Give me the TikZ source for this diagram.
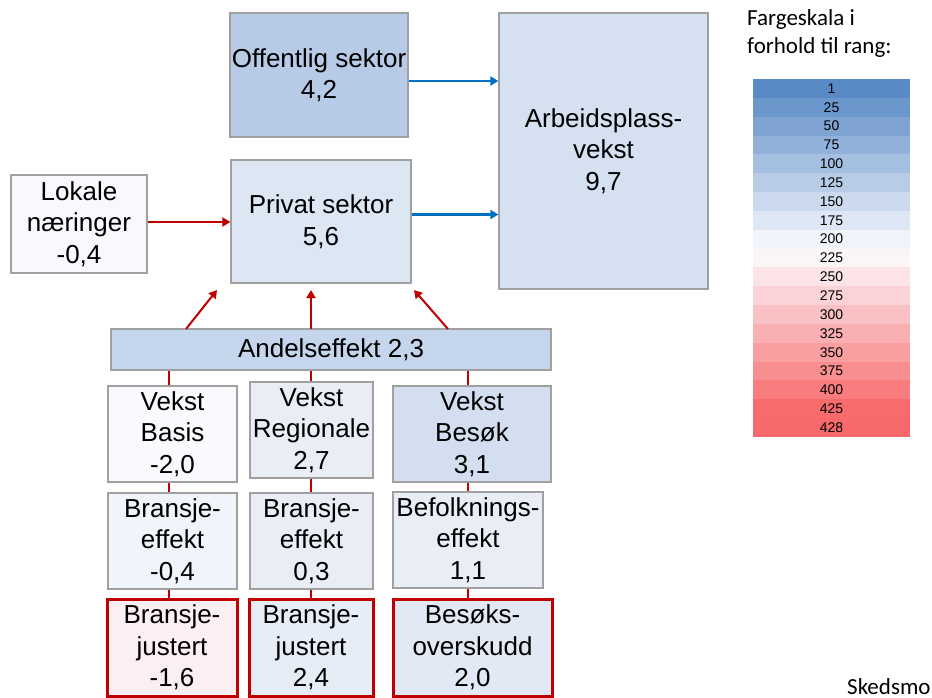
\documentclass[tikz,border=0pt]{standalone}
\usepackage{fontspec}
\setmainfont{Liberation Sans}
\newfontfamily\calibri{Carlito}
\usetikzlibrary{arrows.meta}
\definecolor{sblue}{HTML}{5A8AC6}
\definecolor{swhite}{HTML}{FCFCFF}
\definecolor{sred}{HTML}{F8696B}
\definecolor{boxgray}{HTML}{A0A0A0}
\definecolor{dred}{HTML}{C00000}
\definecolor{dblue}{HTML}{0070C0}
\definecolor{cOff}{HTML}{B7CBE6}
\definecolor{cPriv}{HTML}{DDE7F4}
\definecolor{cArb}{HTML}{D5E0F0}
\definecolor{cLok}{HTML}{F8F9FD}
\definecolor{cAnd}{HTML}{C5D5EB}
\definecolor{cVB}{HTML}{FAFAFE}
\definecolor{cVR}{HTML}{E9EEF6}
\definecolor{cVBe}{HTML}{D3DEF0}
\definecolor{cBE1}{HTML}{F0F4FB}
\definecolor{cBE2}{HTML}{E8EDF6}
\definecolor{cBef}{HTML}{E9EEF6}
\definecolor{cBJ1}{HTML}{FBEFF2}
\definecolor{cBJ2}{HTML}{E7EDF6}
\definecolor{cBO}{HTML}{E2E9F5}
\begin{document}
\begin{tikzpicture}[x=1pt,y=-1pt,
  box/.style={draw=boxgray, line width=1.2pt, inner sep=0pt, align=center,
    font=\fontsize{26}{31.5}\selectfont, text=black},
  redbox/.style={box, draw=dred, line width=3pt},
  redarr/.style={draw=dred, line width=2pt, -{Triangle[length=8pt,width=9pt]}},
  bluarr/.style={draw=dblue, line width=2.5pt, -{Triangle[length=8pt,width=9pt]}},
  redline/.style={draw=dred, line width=2pt},
  scaletxt/.style={inner sep=0pt, font=\fontsize{14}{16}\selectfont, text=black}]
\useasboundingbox (0,0) rectangle (932,698);

% main boxes
\node[box, fill=cOff, minimum width=178pt, minimum height=124pt] (off) at (319,75) {Offentlig sektor\\4,2};
\node[box, fill=cPriv, minimum width=180pt, minimum height=123pt] (priv) at (321,221.5) {Privat sektor\\5,6};
\node[box, fill=cArb, minimum width=209pt, minimum height=276pt] (arb) at (603.5,151) {Arbeidsplass-\\vekst\\9,7};
\node[box, fill=cLok, minimum width=136pt, minimum height=98pt] (lok) at (79,224) {Lokale\\næringer\\-0,4};
\node[box, fill=cAnd, minimum width=440pt, minimum height=41pt] (andel) at (331,349.5) {Andelseffekt 2,3};

\node[box, fill=cVB, minimum width=129pt, minimum height=96pt] (vb) at (172.5,434) {Vekst\\Basis\\-2,0};
\node[box, fill=cVR, minimum width=123pt, minimum height=96pt] (vr) at (311.5,430) {Vekst\\Regionale\\2,7};
\node[box, fill=cVBe, minimum width=158pt, minimum height=96pt] (vbe) at (472,434) {Vekst\\Besøk\\3,1};

\node[box, fill=cBE1, minimum width=129pt, minimum height=96pt] (be1) at (172.5,541) {Bransje-\\effekt\\-0,4};
\node[box, fill=cBE2, minimum width=123pt, minimum height=96pt] (be2) at (311.5,541) {Bransje-\\effekt\\0,3};
\node[box, fill=cBef, minimum width=150pt, minimum height=96pt] (bef) at (468,540) {Befolknings-\\effekt\\1,1};

\node[redbox, fill=cBJ1, minimum width=130pt, minimum height=97pt] (bj1) at (172,647.5) {Bransje-\\justert\\-1,6};
\node[redbox, fill=cBJ2, minimum width=124pt, minimum height=97pt] (bj2) at (311,647.5) {Bransje-\\justert\\2,4};
\node[redbox, fill=cBO, minimum width=159pt, minimum height=97pt] (bo) at (472.5,647.5) {Besøks-\\overskudd\\2,0};

% arrows
\draw[bluarr] ([yshift=-6pt]off.east) -- ([yshift=-6pt]off.east -| arb.west);
\draw[bluarr] ([yshift=7pt]priv.east) -- ([yshift=7pt]priv.east -| arb.west);
\draw[redarr] ([yshift=2pt]lok.east) -- ([yshift=2pt]lok.east -| priv.west);

\coordinate (u1s) at (186,329);
\coordinate (u1e) at (217,290);
\coordinate (u2s) at (311,329);
\coordinate (u2e) at (311,290);
\coordinate (u3s) at (448,329);
\coordinate (u3e) at (414,290);
\draw[redarr] (u1s) -- (u1e);
\draw[redarr] (u2s) -- (u2e);
\draw[redarr] (u3s) -- (u3e);

\coordinate (colA) at (169,0);
\coordinate (colB) at (311,0);
\coordinate (colC) at (468,0);
\draw[redline] (andel.south -| colA) -- (vb.north -| colA);
\draw[redline] (vb.south -| colA) -- (be1.north -| colA);
\draw[redline] (be1.south -| colA) -- (bj1.north -| colA);
\draw[redline] (andel.south -| colB) -- (vr.north -| colB);
\draw[redline] (vr.south -| colB) -- (be2.north -| colB);
\draw[redline] (be2.south -| colB) -- (bj2.north -| colB);
\draw[redline] (andel.south -| colC) -- (vbe.north -| colC);
\draw[redline] (vbe.south -| colC) -- (bef.north -| colC);
\draw[redline] (bef.south -| colC) -- (bo.north -| colC);

% colour scale legend
\node[anchor=north west, inner sep=0pt, align=left, font=\calibri\fontsize{23}{28}\selectfont] (leg) at (747,9) {Fargeskala i\\forhold til rang:};
\foreach \v [count=\i from 0] in {1,25,50,75,100,125,150,175,200,225,250,275,300,325,350,375,400,425,428} {
  \ifdim\v pt<214.5pt
    \pgfmathsetmacro\p{(1-(\v-1)/213.5)*100}
    \colorlet{rowc}{sblue!\p!swhite}
  \else
    \pgfmathsetmacro\p{(\v-214.5)/213.5*100}
    \colorlet{rowc}{sred!\p!swhite}
  \fi
  \pgfmathsetmacro\ya{79+\i*18.84}
  \pgfmathsetmacro\yb{79+(\i+1)*18.84}
  \fill[rowc] (753,\ya) rectangle (910,\yb);
  \node[scaletxt] (s\i) at (831.5,{(\ya+\yb)/2}) {\v};
}

\node[anchor=base west, inner sep=0pt, font=\calibri\fontsize{23}{28}\selectfont] (sk) at (847,694) {Skedsmo};
\end{tikzpicture}
\end{document}
